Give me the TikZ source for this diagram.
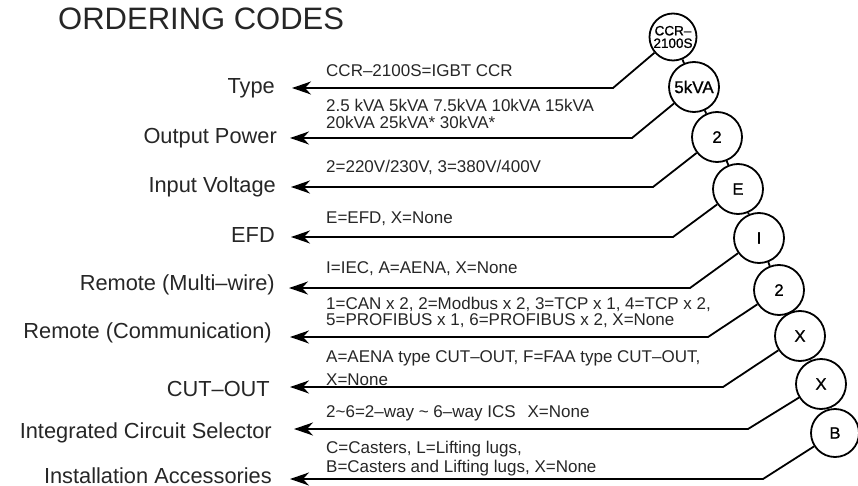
\documentclass[tikz,border=0pt]{standalone}
\usepackage{fontspec}
\setmainfont{Liberation Sans}
\newfontfamily\codefont{Liberation Sans}[FakeBold=1]
\usetikzlibrary{arrows.meta}
\begin{document}
\begin{tikzpicture}[x=1pt,y=-1pt,
  lead/.style={line width=1.8pt, -{Stealth[length=19pt,width=13pt,inset=6pt]}, line join=miter},
  link/.style={line width=1.8pt},
  code/.style={circle, draw, line width=1.8pt, minimum size=50pt, inner sep=0pt,
    font=\codefont\fontsize{16.5}{16.5}\selectfont},
  lbl/.style={anchor=base east, inner sep=0pt, font=\fontsize{21.8}{21.8}\selectfont, text=black!85},
  desc/.style={anchor=base west, inner sep=0pt, font=\fontsize{17}{17}\selectfont, text=black!85},
]
\useasboundingbox (0,0) rectangle (858,486);

\node[anchor=base west, inner sep=0pt, font=\fontsize{31}{31}\selectfont, text=black!85] (title) at (58,30) {ORDERING CODES};

% code circles
\node[code, minimum size=47pt, align=center, font=\codefont\fontsize{13.5}{12.5}\selectfont] (c1) at (673,37) {CCR–\\2100S};
\node[code, font=\codefont\fontsize{17}{17}\selectfont] (c2) at (694,87) {5kVA};
\node[code] (c3) at (717,137) {2};
\node[code] (c4) at (738,189) {E};
\node[code] (c5) at (759,238) {I};
\node[code] (c6) at (779,290) {2};
\node[code] (c7) at (800,336) {X};
\node[code] (c8) at (821,384) {X};
\node[code, minimum size=48pt] (c9) at (835,433) {B};

\draw[link] (c1) -- (c2);
\draw[link] (c2) -- (c3);
\draw[link] (c3) -- (c4);
\draw[link] (c4) -- (c5);
\draw[link] (c5) -- (c6);
\draw[link] (c6) -- (c7);
\draw[link] (c7) -- (c8);
\draw[link] (c8) -- (c9);

% labels
\node[lbl] (l1) at (275,94) {Type};
\node[lbl] (l2) at (277,144) {Output Power};
\node[lbl] (l3) at (276,193) {Input Voltage};
\node[lbl] (l4) at (275,242) {EFD};
\node[lbl] (l5) at (275,290) {Remote (Multi–wire)};
\node[lbl] (l6) at (272,338) {Remote (Communication)};
\node[lbl] (l7) at (270,396) {CUT–OUT};
\node[lbl] (l8) at (272,438) {Integrated Circuit Selector};
\node[lbl] (l9) at (272,483) {Installation Accessories};

% corners and arrow tips
\coordinate (k1) at (613,88);  \coordinate (t1) at (292,88);
\coordinate (k2) at (632,138); \coordinate (t2) at (290,138);
\coordinate (k3) at (653,187); \coordinate (t3) at (291,187);
\coordinate (k4) at (673,237); \coordinate (t4) at (291,237);
\coordinate (k5) at (690,288); \coordinate (t5) at (289,288);
\coordinate (k6) at (708,337); \coordinate (t6) at (290,337);
\coordinate (k7) at (723,387); \coordinate (t7) at (290,387);
\coordinate (k8) at (748,429); \coordinate (t8) at (294,429);
\coordinate (k9) at (763,479); \coordinate (t9) at (290,479);

\draw[lead] (c1) -- (k1) -- (t1);
\draw[lead] (c2) -- (k2) -- (t2);
\draw[lead] (c3) -- (k3) -- (t3);
\draw[lead] (c4) -- (k4) -- (t4);
\draw[lead] (c5) -- (k5) -- (t5);
\draw[lead] (c6) -- (k6) -- (t6);
\draw[lead] (c7) -- (k7) -- (t7);
\draw[lead] (c8) -- (k8) -- (t8);
\draw[lead] (c9) -- (k9) -- (t9);

% descriptions
\node[desc] (d1) at (326,77) {CCR–2100S=IGBT CCR};
\node[desc] (d2a) at (326,112) {2.5 kVA 5kVA 7.5kVA 10kVA 15kVA};
\node[desc] (d2b) at (326,128.5) {20kVA 25kVA* 30kVA*};
\node[desc] (d3) at (326,173) {2=220V/230V, 3=380V/400V};
\node[desc] (d4) at (326,223) {E=EFD, X=None};
\node[desc] (d5) at (326,273) {I=IEC, A=AENA, X=None};
\node[desc] (d6a) at (326,309.5) {1=CAN x 2, 2=Modbus x 2, 3=TCP x 1, 4=TCP x 2,};
\node[desc] (d6b) at (326,325.5) {5=PROFIBUS x 1, 6=PROFIBUS x 2, X=None};
\node[desc] (d7a) at (326,362) {A=AENA type CUT–OUT, F=FAA type CUT–OUT,};
\node[desc] (d7b) at (326,385) {X=None};
\node[desc] (d8) at (326,417) {2\textasciitilde 6=2–way \textasciitilde{} 6–way ICS\hspace{12pt}X=None};
\node[desc] (d9a) at (326,453) {C=Casters, L=Lifting lugs,};
\node[desc] (d9b) at (326,472) {B=Casters and Lifting lugs, X=None};
\end{tikzpicture}
\end{document}
